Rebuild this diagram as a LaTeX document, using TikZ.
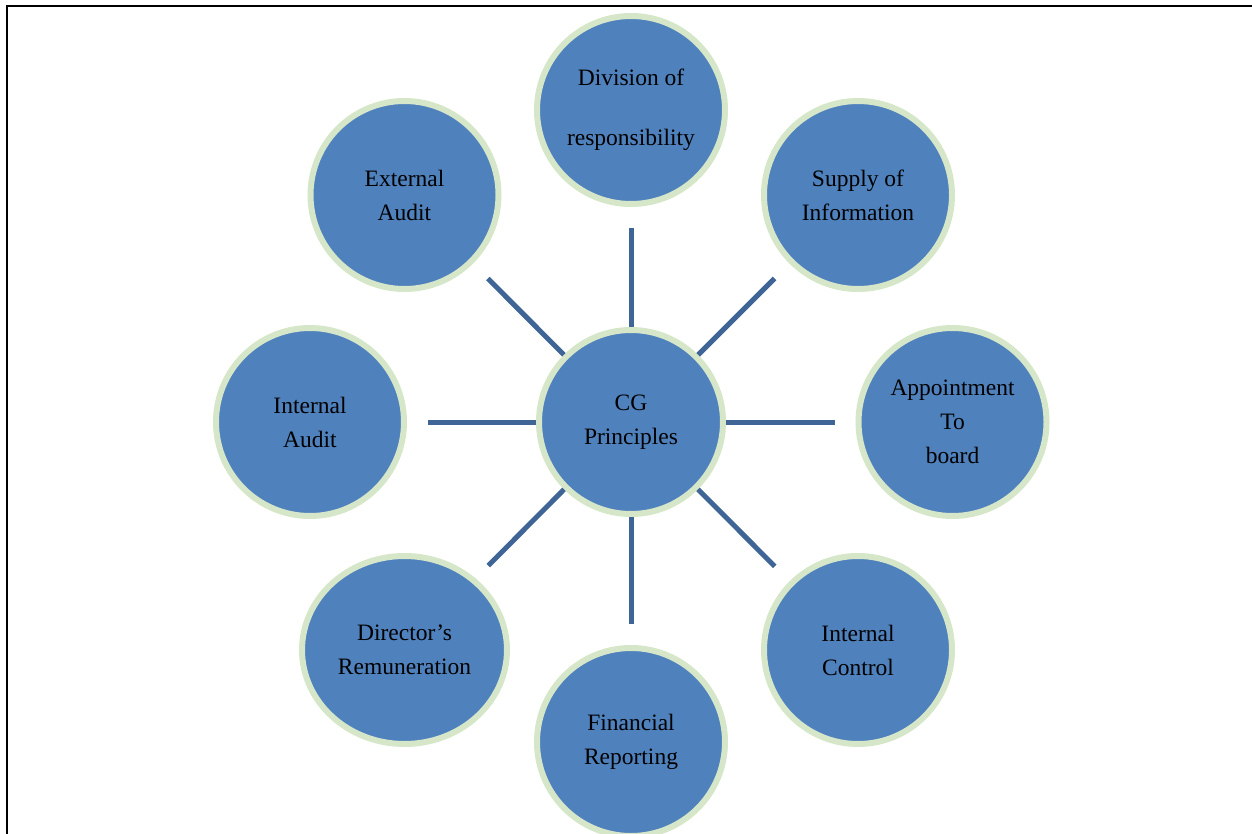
\documentclass[tikz,border=0pt]{standalone}
\usepackage{fontspec}
\setmainfont{Liberation Serif}
\usetikzlibrary{shapes.geometric}
\definecolor{bubblefill}{HTML}{4F81BD}
\definecolor{bubblerim}{HTML}{D5E6C9}
\definecolor{spokecol}{HTML}{3F6496}
\tikzset{
  bubble/.style={circle, fill=bubblefill, draw=bubblerim, line width=6pt,
    minimum size=188pt, inner sep=0pt, align=center, text=black,
    font=\fontsize{23.5}{34}\selectfont},
  hub/.style={bubble, minimum size=184pt},
  oval/.style={bubble, ellipse, minimum width=205pt, minimum height=188pt},
  spoke/.style={draw=spokecol, line width=5pt, shorten >=21pt},
  frame/.style={draw=black, line width=2pt}
}
\begin{document}
\begin{tikzpicture}[x=1pt,y=-1pt]
\useasboundingbox (0,0) rectangle (1252,834);
\coordinate (fa) at (1252,6);
\coordinate (fb) at (7,6);
\coordinate (fc) at (7,834);
\draw[frame] (fa) -- (fb) -- (fc);

\node[hub] (c) at (631,422) {CG\\Principles};
\node[bubble] (n) at (631,110) {Division of\\[26pt]responsibility};
\node[bubble] (ne) at (858,195) {Supply of\\Information};
\node[bubble] (e) at (952.5,422) {Appointment\\To\\board};
\node[bubble] (se) at (858,650) {Internal\\Control};
\node[bubble] (s) at (631,742) {Financial\\Reporting};
\node[oval] (sw) at (404.5,650) {Director's\\Remuneration};
\node[bubble] (w) at (310,422) {Internal\\Audit};
\node[bubble] (nw) at (404.5,195) {External\\Audit};

\draw[spoke] (c) -- (n);
\draw[spoke] (c) -- (ne);
\draw[spoke] (c) -- (e);
\draw[spoke] (c) -- (se);
\draw[spoke] (c) -- (s);
\draw[spoke, shorten >=18pt] (c) -- (sw);
\draw[spoke] (c) -- (w);
\draw[spoke] (c) -- (nw);
\end{tikzpicture}
\end{document}
